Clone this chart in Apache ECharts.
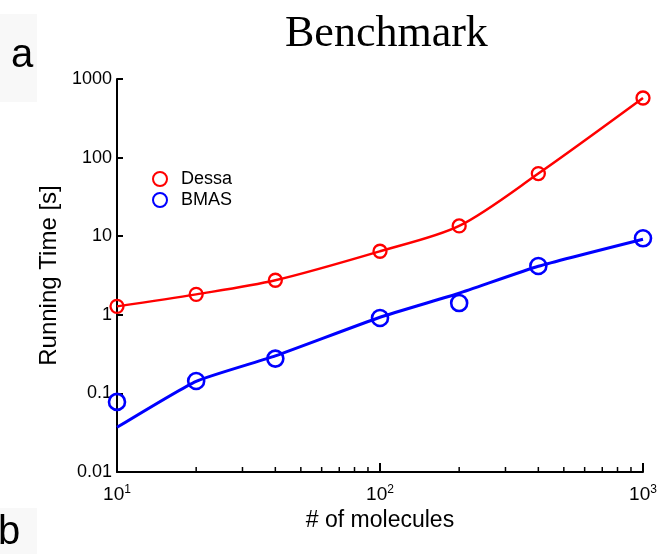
<!DOCTYPE html>
<html>
<head>
<meta charset="utf-8">
<script src="https://cdn.jsdelivr.net/npm/echarts@6/dist/echarts.min.js"></script>
<style>
  html, body { margin: 0; padding: 0; background: #fff; }
  #main { width: 660px; height: 554px; }
</style>
</head>
<body>
<div id="main"></div>
<script>
// 分子数 (x)
var molecules = [10, 20, 40, 100, 200, 400, 1000];
// 运行时间 [s]
var dessaTime = [1.28, 1.82, 2.75, 6.43, 13.5, 62.6, 573];
var bmasTime = [0.078, 0.144, 0.277, 0.91, 1.41, 4.18, 9.4];
// 拟合曲线
var dessaFit = [1.28, 1.82, 2.75, 6.43, 13.5, 62.6, 573];
var bmasFit = [0.037, 0.1426, 0.30, 0.93, 1.88, 4.14, 9.14];
// x 轴次刻度
var minorTicks = [20, 30, 40, 50, 60, 70, 80, 90, 200, 300, 400, 500, 600, 700, 800, 900];

var FONT = 'Liberation Sans, Arial, sans-serif';

function pairs(xs, ys) {
    return xs.map(function (x, i) { return [x, ys[i]]; });
}

var myChart = echarts.init(document.getElementById('main'));
myChart.setOption({
    animation: false,
    title: {
        text: 'Benchmark',
        left: 280,
        top: 7,
        textStyle: {
            fontFamily: 'Liberation Serif, Times New Roman, serif',
            fontSize: 44,
            fontWeight: 'normal',
            color: '#000'
        }
    },
    graphic: [
        { type: 'rect', left: 0, top: 14, shape: { width: 37, height: 88 }, style: { fill: '#f8f8f8' }, z: -1 },
        { type: 'rect', left: 0, top: 508, shape: { width: 37, height: 46 }, style: { fill: '#f8f8f8' }, z: -1 },
        { type: 'text', left: 11, top: 36, style: { text: 'a', fontFamily: FONT, fontSize: 40, fill: '#000' } },
        { type: 'text', left: -2, top: 513, style: { text: 'b', fontFamily: FONT, fontSize: 40, fill: '#000' } }
    ],
    legend: {
        orient: 'vertical',
        left: 147,
        top: 165,
        itemWidth: 22,
        itemHeight: 14,
        itemGap: 3,
        textStyle: { fontFamily: FONT, fontSize: 18, lineHeight: 14, color: '#000', padding: [0, 0, 0, 5] },
        data: ['Dessa', 'BMAS']
    },
    grid: { left: 117, right: 17, top: 79, bottom: 82 },
    xAxis: {
        type: 'log',
        logBase: 10,
        min: 10,
        max: 1000,
        name: '# of molecules',
        nameLocation: 'middle',
        nameGap: 32,
        nameTextStyle: { fontFamily: FONT, fontSize: 23, color: '#000' },
        axisLine: { lineStyle: { color: '#000', width: 2 } },
        axisTick: { inside: true, length: 9, lineStyle: { color: '#000', width: 2 } },
        splitLine: { show: false },
        axisLabel: {
            margin: 12,
            formatter: function (v) {
                return '{b|10}{s|' + Math.round(Math.log10(v)) + '}';
            },
            rich: {
                b: { fontFamily: FONT, fontSize: 19, color: '#000', lineHeight: 22 },
                s: { fontFamily: FONT, fontSize: 12, color: '#000', lineHeight: 12, verticalAlign: 'top' }
            }
        }
    },
    yAxis: {
        type: 'log',
        logBase: 10,
        min: 0.01,
        max: 1000,
        name: 'Running Time [s]',
        nameLocation: 'middle',
        nameGap: 50,
        nameTextStyle: { fontFamily: FONT, fontSize: 24, color: '#000' },
        axisLine: { show: true, lineStyle: { color: '#000', width: 2 } },
        axisTick: { show: true, inside: true, length: 6, lineStyle: { color: '#000', width: 2 } },
        splitLine: { show: false },
        axisLabel: {
            margin: 5,
            fontFamily: FONT,
            fontSize: 18,
            color: '#000',
            formatter: function (v) {
                return String(Number(v.toPrecision(1)));
            }
        }
    },
    series: [
        {
            name: 'minor',
            type: 'custom',
            silent: true,
            clip: false,
            data: minorTicks.map(function (x) { return [x, 0.01]; }),
            renderItem: function (params, api) {
                var p = api.coord([api.value(0), api.value(1)]);
                return {
                    type: 'line',
                    shape: { x1: p[0], y1: p[1], x2: p[0], y2: p[1] - 5 },
                    style: { stroke: '#000', lineWidth: 1.5 }
                };
            }
        },
        {
            name: 'Dessa fit',
            type: 'line',
            data: pairs(molecules, dessaFit),
            smooth: 0.3,
            showSymbol: false,
            clip: false,
            lineStyle: { color: '#ff0000', width: 2.5 }
        },
        {
            name: 'BMAS fit',
            type: 'line',
            data: pairs(molecules, bmasFit),
            smooth: 0.15,
            showSymbol: false,
            clip: false,
            lineStyle: { color: '#0000ff', width: 3 }
        },
        {
            name: 'Dessa',
            type: 'scatter',
            data: pairs(molecules, dessaTime),
            symbol: 'circle',
            symbolSize: 13,
            clip: false,
            itemStyle: { color: 'rgba(0,0,0,0)', borderColor: '#ff0000', borderWidth: 2.3, opacity: 1 },
            z: 5
        },
        {
            name: 'BMAS',
            type: 'scatter',
            data: pairs(molecules, bmasTime),
            symbol: 'circle',
            symbolSize: 16,
            clip: false,
            itemStyle: { color: 'rgba(0,0,0,0)', borderColor: '#0000ff', borderWidth: 2.6, opacity: 1 },
            z: 5
        }
    ]
});
</script>
</body>
</html>
